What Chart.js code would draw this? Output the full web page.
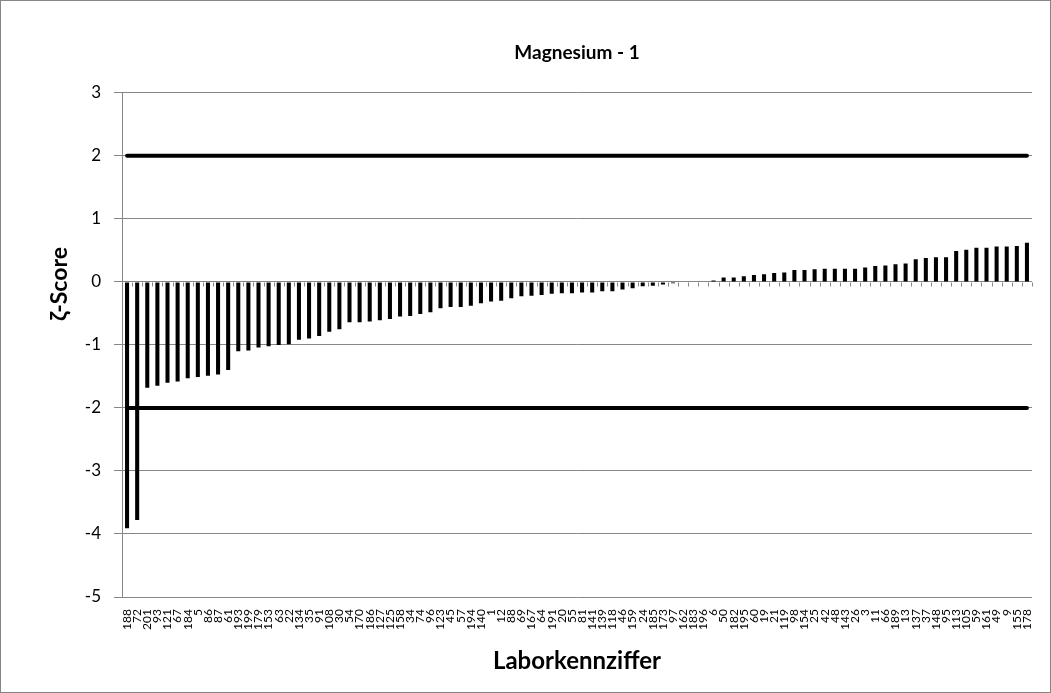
<!DOCTYPE html>
<html>
<head>
<meta charset="utf-8">
<title>Magnesium - 1</title>
<script src="https://cdn.jsdelivr.net/npm/chart.js@4.4.1/dist/chart.umd.min.js"></script>
<style>
    html, body { margin: 0; padding: 0; background: #ffffff; }
    #chart-zscore { display: block; }
</style>
</head>
<body>
<canvas id="chart-zscore" width="1051" height="693"></canvas>
<script>
// Laborkennziffern (x-Achse), in der Reihenfolge des Diagramms
const labore = [
    '188', '72', '201', '93', '121', '67', '184', '5', '86', '87',
    '61', '193', '199', '179', '153', '63', '22', '134', '35', '91',
    '108', '30', '54', '170', '186', '127', '125', '158', '34', '74',
    '96', '123', '45', '57', '194', '140', '1', '12', '88', '69',
    '167', '64', '191', '20', '55', '81', '141', '139', '118', '46',
    '159', '24', '185', '173', '97', '162', '183', '196', '6', '50',
    '182', '195', '60', '19', '21', '119', '98', '154', '25', '42',
    '48', '143', '26', '3', '11', '66', '189', '13', '137', '37',
    '148', '95', '113', '105', '59', '161', '49', '9', '155', '178'
];

// ζ-Score je Labor
const zetaScores = [
    -3.91, -3.78, -1.68, -1.65, -1.60, -1.58, -1.53, -1.51, -1.49, -1.47,
    -1.40, -1.10, -1.09, -1.04, -1.02, -1.00, -0.99, -0.92, -0.90, -0.86,
    -0.79, -0.75, -0.64, -0.64, -0.63, -0.61, -0.59, -0.55, -0.54, -0.51,
    -0.48, -0.42, -0.40, -0.40, -0.38, -0.34, -0.31, -0.30, -0.26, -0.23,
    -0.22, -0.21, -0.19, -0.18, -0.18, -0.17, -0.17, -0.15, -0.15, -0.12,
    -0.10, -0.07, -0.06, -0.04, -0.02, -0.01, 0.00, 0.00, 0.02, 0.07,
    0.07, 0.09, 0.11, 0.12, 0.14, 0.15, 0.19, 0.19, 0.20, 0.21,
    0.21, 0.21, 0.21, 0.23, 0.25, 0.26, 0.28, 0.29, 0.36, 0.38,
    0.39, 0.39, 0.49, 0.51, 0.54, 0.54, 0.56, 0.56, 0.57, 0.62
];

// Grenzen |ζ| = 2
const grenzen = [2, -2];

// Achsenbereich
const yMin = -5;
const yMax = 3;
const yStep = 1;

const GRAU = '#868686';
const FONT = "Lato, 'Liberation Sans', sans-serif";

// Rahmen um das gesamte Diagramm
const rahmenPlugin = {
    id: 'rahmen',
    afterDraw(chart) {
        const ctx = chart.ctx;
        ctx.save();
        ctx.strokeStyle = GRAU;
        ctx.lineWidth = 1;
        ctx.strokeRect(0.5, 0.5, chart.width - 1, chart.height - 1);
        ctx.restore();
    }
};

// Titel der y-Achse (in Excel manuell auf Höhe der Nulllinie verschoben)
const yTitelPlugin = {
    id: 'yTitel',
    afterDraw(chart) {
        const ctx = chart.ctx;
        ctx.save();
        ctx.translate(60, 284);
        ctx.rotate(-Math.PI / 2);
        ctx.fillStyle = '#000000';
        ctx.font = `bold 23px ${FONT}`;
        ctx.textAlign = 'center';
        ctx.textBaseline = 'middle';
        ctx.fillText('ζ-Score', 0, 0);
        ctx.restore();
    }
};

// Teilstriche der Rubrikenachse auf der Nulllinie
const nullAchsePlugin = {
    id: 'nullAchse',
    beforeDatasetsDraw(chart) {
        const x = chart.scales.x;
        const y0 = Math.round(chart.scales.y.getPixelForValue(0)) + 0.5;
        const ctx = chart.ctx;
        ctx.save();
        ctx.strokeStyle = GRAU;
        ctx.lineWidth = 1;
        ctx.beginPath();
        for (let i = 0; i <= labore.length; i++) {
            const px = Math.round(x.getPixelForValue(i - 0.5)) + 0.5;
            ctx.moveTo(px, y0);
            ctx.lineTo(px, y0 + 4);
        }
        ctx.stroke();
        ctx.restore();
    }
};

const grenzLinie = (wert) => ({
    type: 'line',
    data: [
        { x: labore[0], y: wert },
        { x: labore[labore.length - 1], y: wert }
    ],
    borderColor: '#000000',
    borderWidth: 4,
    borderCapStyle: 'round',
    pointRadius: 0,
    tension: 0,
    order: 0
});

const ctx = document.getElementById('chart-zscore');

new Chart(ctx, {
    type: 'bar',
    data: {
        labels: labore,
        datasets: [
            {
                label: 'ζ-Score',
                data: zetaScores,
                backgroundColor: '#000000',
                borderWidth: 0,
                barPercentage: 0.4,
                categoryPercentage: 1.0,
                order: 1
            },
            ...grenzen.map(grenzLinie)
        ]
    },
    options: {
        responsive: false,
        animation: false,
        events: [],
        layout: {
            padding: { left: 0, right: 19, top: 0, bottom: 0 }
        },
        plugins: {
            legend: { display: false },
            tooltip: { enabled: false },
            title: {
                display: true,
                fullSize: false,
                text: 'Magnesium - 1',
                color: '#000000',
                font: { family: FONT, size: 19, weight: 'bold' },
                padding: { top: 41, bottom: 29 }
            }
        },
        scales: {
            x: {
                type: 'category',
                grid: { display: false },
                border: { display: false },
                ticks: {
                    autoSkip: false,
                    maxRotation: 90,
                    minRotation: 90,
                    padding: 4,
                    color: '#000000',
                    font: { family: FONT, size: 12 }
                },
                title: {
                    display: true,
                    text: 'Laborkennziffer',
                    color: '#000000',
                    font: { family: FONT, size: 24, weight: 'bold' },
                    padding: { top: 0, bottom: 17 }
                },
                afterFit(scale) { scale.height = 96; }
            },
            y: {
                min: yMin,
                max: yMax,
                ticks: {
                    stepSize: yStep,
                    padding: 13,
                    color: '#000000',
                    font: { family: FONT, size: 17 }
                },
                grid: {
                    color: GRAU,
                    lineWidth: 1,
                    tickLength: 8
                },
                border: { display: true, color: GRAU, width: 1 },
                title: { display: false },
                afterFit(scale) { scale.width = 122; }
            }
        }
    },
    plugins: [rahmenPlugin, nullAchsePlugin, yTitelPlugin]
});
</script>
</body>
</html>
